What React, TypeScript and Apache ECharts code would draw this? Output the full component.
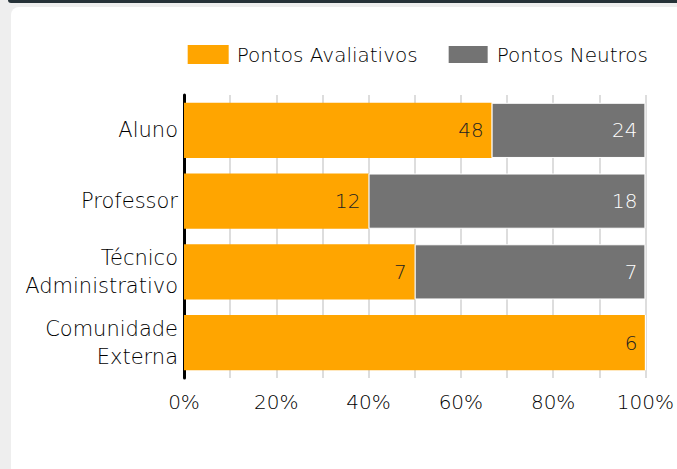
import React, { useEffect, useRef } from "react";
import * as echarts from "echarts";

const categories = ["Aluno", "Professor", "Técnico\nAdministrativo", "Comunidade\nExterna"];
const avaliativos = [48, 12, 7, 6];
const neutros = [24, 18, 7, 0];
const seriesNames = ["Pontos Avaliativos", "Pontos Neutros"];
const xTicks = [0, 20, 40, 60, 80, 100];

const FONT = "'DejaVu Sans', sans-serif";
const W = 200;
const TXT = "#000";

export default function App() {
  const ref = useRef<HTMLDivElement>(null);
  useEffect(() => {
    if (!ref.current) return;
    const chart = echarts.init(ref.current, undefined, { renderer: "svg" });
    const totals = avaliativos.map((v, i) => v + neutros[i]);
    const pct = (arr: number[]) =>
      arr.map((v, i) => ({ value: totals[i] ? (v / totals[i]) * 100 : 0, raw: v }));
    chart.setOption({
      animation: false,
      textStyle: { fontFamily: FONT, fontWeight: W },
      legend: {
        right: 29,
        top: 44,
        padding: 0,
        itemWidth: 41,
        itemHeight: 19,
        itemGap: 29,
        icon: "rect",
        textStyle: { fontFamily: FONT, fontSize: 20, color: TXT, fontWeight: W, padding: [0, 0, 0, 3] },
        data: seriesNames,
      },
      grid: { left: 184, right: 30, top: 95, bottom: 91, containLabel: false },
      xAxis: {
        type: "value",
        min: 0,
        max: 100,
        interval: 10,
        axisLine: { show: false },
        axisTick: { show: false },
        splitLine: { show: true, lineStyle: { color: "#dddddd", width: 2 } },
        axisLabel: {
          fontFamily: FONT,
          fontSize: 20,
          color: TXT,
          fontWeight: W,
          margin: 14,
          formatter: (v: number) => (xTicks.includes(v) ? v + "%" : ""),
        },
      },
      yAxis: {
        type: "category",
        inverse: true,
        data: categories,
        axisLine: { show: true, lineStyle: { color: "#000", width: 3 } },
        axisTick: { show: false },
        axisLabel: {
          fontFamily: FONT,
          fontSize: 21,
          color: TXT,
          fontWeight: W,
          lineHeight: 28,
          margin: 6,
          align: "right",
        },
      },
      series: [
        {
          name: seriesNames[0],
          type: "bar",
          stack: "total",
          barCategoryGap: "22%",
          itemStyle: { color: "#FFA500" },
          label: {
            show: true,
            position: "insideRight",
            distance: 8,
            fontFamily: FONT,
            fontSize: 20,
            fontWeight: W,
            color: "#222",
            formatter: (p: any) => (p.data.raw ? String(p.data.raw) : ""),
          },
          data: pct(avaliativos),
        },
        {
          name: seriesNames[1],
          type: "bar",
          stack: "total",
          barCategoryGap: "22%",
          itemStyle: { color: "#737373", borderColor: "#fff", borderWidth: 1 },
          label: {
            show: true,
            position: "insideRight",
            distance: 8,
            fontFamily: FONT,
            fontSize: 20,
            fontWeight: W,
            color: "#fff",
            formatter: (p: any) => (p.data.raw ? String(p.data.raw) : ""),
          },
          data: pct(neutros),
        },
      ],
    });
    return () => chart.dispose();
  }, []);

  return (
    <div
      style={{
        position: "fixed",
        left: 0,
        top: 0,
        width: 677,
        height: 469,
        background: "#eeeeee",
        overflow: "hidden",
      }}
    >
      <div
        style={{
          position: "absolute",
          left: 8,
          top: 0,
          width: 700,
          height: 3,
          background: "#263238",
          borderBottomLeftRadius: 4,
        }}
      />
      <div
        style={{
          position: "absolute",
          left: 11,
          top: 7,
          width: 700,
          height: 500,
          background: "#ffffff",
          borderRadius: 8,
        }}
      />
      <div ref={ref} style={{ position: "absolute", left: 0, top: 0, width: 677, height: 469 }} />
    </div>
  );
}
